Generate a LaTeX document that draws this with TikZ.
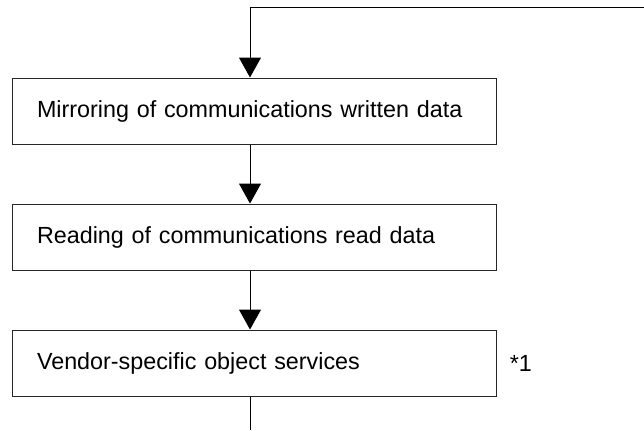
\documentclass[tikz,border=0pt]{standalone}
\usepackage{fontspec}
\setmainfont{Liberation Sans}
\usetikzlibrary{arrows.meta,calc,positioning}
\begin{document}
\begin{tikzpicture}[
    x=0.75pt,y=-0.75pt,
    flow/.style={-{Triangle[width=16.5pt,length=15pt]},line width=0.75pt},
    stepbox/.style={draw=black!85,line width=0.75pt,minimum width=363pt,minimum height=49.5pt,
      inner xsep=18.75pt,text width=325.5pt,align=left,font=\fontsize{17.5}{21}\selectfont},
    labelnode/.style={inner sep=0pt,font=\fontsize{17.5}{21}\selectfont}
  ]
    \useasboundingbox (0,0) rectangle (644,430);

    % 处理步骤
    \node[stepbox] (mirror) at (254,111) {Mirroring of communications written data};
    \node[stepbox,below=44.25pt of mirror] (readin) {Reading of communications read data};
    \node[stepbox,below=44.25pt of readin] (vendor) {Vendor-specific object services};
    \node[labelnode,anchor=west] (note) at ($(vendor.east)+(13,0)$) {*1};

    % 主线与回路
    \coordinate (spine) at (250,0);
    \coordinate (loop) at (644,7);
    \coordinate (exit) at (250,430);
    \draw[flow] (loop) -| (mirror.north -| spine);
    \draw[flow] (mirror.south -| spine) -- (readin.north -| spine);
    \draw[flow] (readin.south -| spine) -- (vendor.north -| spine);
    \draw[line width=0.75pt] (vendor.south -| spine) -- (exit);
  \end{tikzpicture}
\end{document}
